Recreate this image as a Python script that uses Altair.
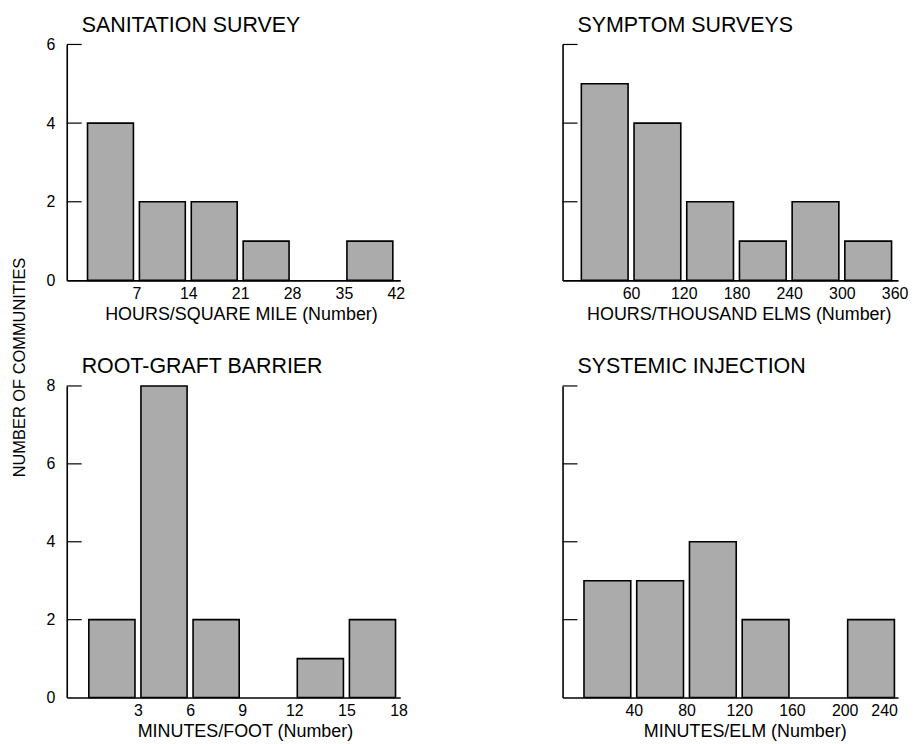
import altair as alt
import pandas as pd

# ---- data ----
san_step = 7
san_counts = [4, 2, 2, 1, 0, 1]
san_ticks_x = [7, 14, 21, 28, 35, 42]

sym_step = 60
sym_counts = [5, 4, 2, 1, 2, 1]
sym_ticks_x = [60, 120, 180, 240, 300, 360]

root_step = 3
root_counts = [2, 8, 2, 0, 1, 2]
root_ticks_x = [3, 6, 9, 12, 15, 18]

sys_step = 40
sys_counts = [3, 3, 4, 2, 0, 2]
sys_ticks_x = [40, 80, 120, 160, 200, 240]

FONT = "Liberation Sans"
FILL = "#ababab"


def panel(title, step, counts, xticks, xdomain, ymax, xtitle, show_ylabels,
          width, height, xtitle_x, ytitle=None):
    starts = [i * step for i in range(len(counts))]
    df = pd.DataFrame({
        "start": starts,
        "end": [s + step for s in starts],
        "count": counts,
    })
    df = df[df["count"] > 0]
    yticks = list(range(0, ymax + 1, 2))

    yaxis_kw = dict(
        values=yticks, ticks=False, grid=False, domain=True,
        domainColor="black", domainWidth=1.6, labels=show_ylabels,
        labelFontSize=16, labelColor="black", labelPadding=12,
        labelFont=FONT,
    )
    if ytitle:
        yaxis_kw.update(title=ytitle, titleAngle=270, titleX=-47,
                        titleY=324, titleAlign="center",
                        titleBaseline="middle", titleFontSize=16.5,
                        titleFontWeight="normal", titleColor="black",
                        titleFont=FONT)
    else:
        yaxis_kw.update(title="")

    xscale = alt.Scale(domain=xdomain, nice=False, zero=False)
    yscale = alt.Scale(domain=[0, ymax], nice=False)

    bars = alt.Chart(df).mark_rect(
        fill=FILL, stroke="black", strokeWidth=1.6, xOffset=3, x2Offset=-3
    ).encode(
        x=alt.X("start:Q", scale=xscale, axis=alt.Axis(
            values=xticks, ticks=False, grid=False, domain=True,
            domainColor="black", domainWidth=1.6, labelFontSize=16,
            labelColor="black", labelPadding=5, labelFont=FONT,
            title=xtitle, titleFontSize=18, titleFontWeight="normal",
            titleColor="black", titlePadding=4, titleFont=FONT,
            titleX=xtitle_x)),
        x2="end:Q",
        y=alt.Y("count:Q", scale=yscale, axis=alt.Axis(**yaxis_kw)),
        y2=alt.datum(0),
    )

    tick_df = pd.DataFrame({"count": yticks[1:]})
    ticks = alt.Chart(tick_df).mark_rule(color="black", strokeWidth=1.2).encode(
        y=alt.Y("count:Q", scale=yscale),
        x=alt.value(0),
        x2=alt.value(15),
    )

    head = alt.Chart(pd.DataFrame({"title": [title]})).mark_text(
        align="left", baseline="alphabetic", fontSize=21.5, font=FONT,
        color="black",
    ).encode(
        x=alt.value(15),
        y=alt.value(-13),
        text="title:N",
    )

    return alt.layer(bars, ticks, head).properties(width=width, height=height)


p1 = panel("SANITATION SURVEY", san_step, san_counts, san_ticks_x,
           [-2.4, 42.6], 6, "HOURS/SQUARE MILE (Number)", True, 335, 237,
           175, ytitle="NUMBER OF COMMUNITIES")
p2 = panel("SYMPTOM SURVEYS", sym_step, sym_counts, sym_ticks_x,
           [-18, 364], 6, "HOURS/THOUSAND ELMS (Number)", False, 337, 237,
           177)
p3 = panel("ROOT-GRAFT BARRIER", root_step, root_counts, root_ticks_x,
           [-1.1, 18.1], 8, "MINUTES/FOOT (Number)", True, 335, 313, 179)
p4 = panel("SYSTEMIC INJECTION", sys_step, sys_counts, sys_ticks_x,
           [-14, 240.5], 8, "MINUTES/ELM (Number)", False, 337, 313, 183)

chart = alt.concat(
    p1, p2, p3, p4, columns=2, bounds="flush",
    spacing={"row": 106, "column": 163},
).properties(
    padding={"left": 4, "top": 5, "right": 5, "bottom": 0},
    background="white",
).configure_view(stroke=None)

chart.save("out.html", embed_options={"renderer": "svg", "actions": False})
